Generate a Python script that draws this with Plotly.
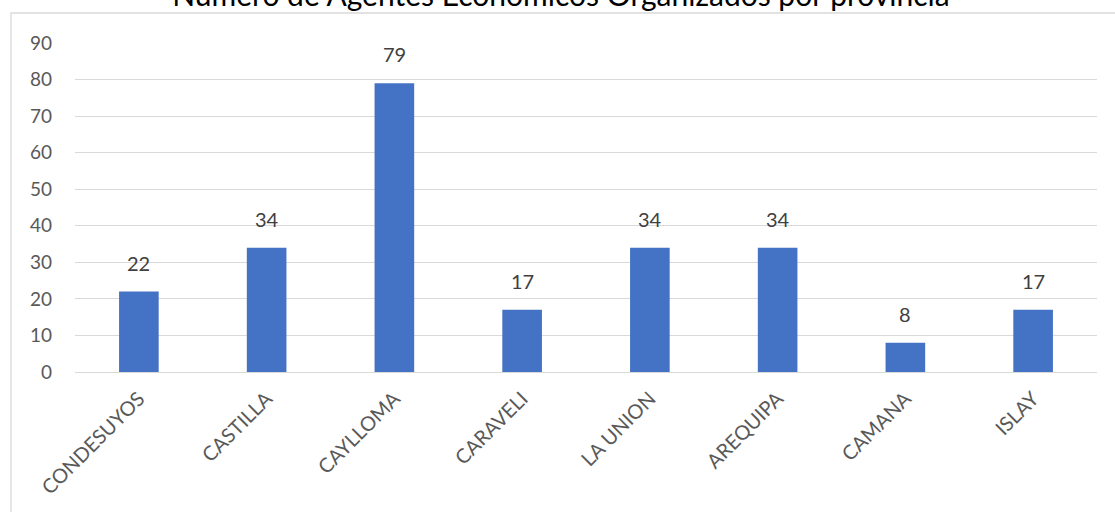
import plotly.graph_objects as go

categories = ["CONDESUYOS", "CASTILLA", "CAYLLOMA", "CARAVELI", "LA UNION", "AREQUIPA", "CAMANA", "ISLAY"]
values = [22, 34, 79, 17, 34, 34, 8, 17]
y_ticks = [0, 10, 20, 30, 40, 50, 60, 70, 80, 90]
title_text = "Número de Agentes Económicos Organizados por provincia"

W, H = 1115, 512
L, R, T, B = 75, 18, 43, 140
pw, ph = W - L - R, H - T - B

FONT = "Lato"
fig = go.Figure()
fig.add_trace(go.Bar(
    x=categories, y=values,
    marker=dict(color="#4472C4", line=dict(width=0)),
    width=0.31,
    hoverinfo="x+y",
))

for c, v in zip(categories, values):
    fig.add_annotation(x=c, y=v, text=str(v), showarrow=False,
                       yanchor="bottom", yshift=15,
                       font=dict(family=FONT, size=20, color="#404040"))


def px_to_paper_x(px):
    return (px - L) / pw


def px_to_paper_y(py):
    return (H - B - py) / ph


# outer chart border (light gray)
fig.add_shape(type="rect", xref="paper", yref="paper",
              x0=px_to_paper_x(11), x1=px_to_paper_x(W + 5),
              y0=px_to_paper_y(H + 5), y1=px_to_paper_y(13),
              line=dict(color="#D9D9D9", width=1.3), fillcolor="rgba(0,0,0,0)", layer="below")

fig.update_layout(
    width=W, height=H,
    margin=dict(l=L, r=R, t=T, b=B, autoexpand=False),
    paper_bgcolor="white", plot_bgcolor="white",
    showlegend=False,
    bargap=0.69,
    title=dict(text=title_text, x=561 / W, xanchor="center",
               y=(H - 6) / H, yanchor="bottom", yref="container",
               font=dict(family=FONT, size=30, color="#000000")),
    font=dict(family=FONT),
)
fig.update_yaxes(range=[0, 90], tickvals=y_ticks, showgrid=True, gridcolor="#D9D9D9", gridwidth=1.3,
                 zeroline=False, showline=False, ticks="",
                 tickfont=dict(family=FONT, size=19, color="#595959"), ticklabelstandoff=22)
fig.update_xaxes(tickangle=-45, showline=True, linecolor="#D9D9D9", linewidth=1.3, ticks="",
                 tickfont=dict(family=FONT, size=20, color="#595959"), ticklabelstandoff=6)

fig.write_html("out.html", config={"displayModeBar": False},
               post_script="document.body.style.margin='0';document.body.style.overflow='hidden';")
